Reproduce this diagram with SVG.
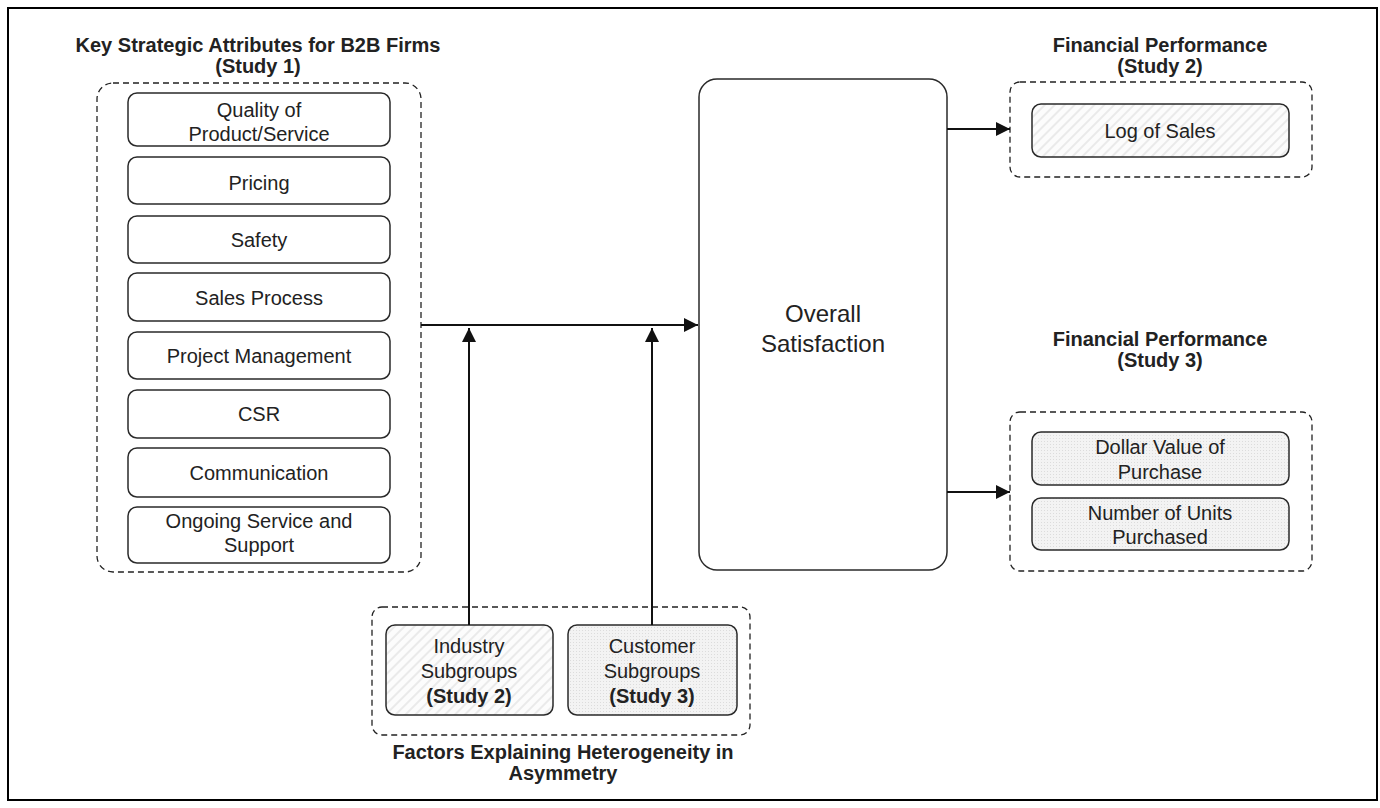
<svg xmlns="http://www.w3.org/2000/svg" width="1380" height="808" viewBox="0 0 1380 808">
<style>
.frame{fill:#fff;stroke:#000;stroke-width:2}
.grp{fill:none;stroke:#222;stroke-width:1.3;stroke-dasharray:6,4}
.box{fill:#fff;stroke:#2a2a2a;stroke-width:1.5}
.hatch{fill:url(#hatch);stroke:#2a2a2a;stroke-width:1.5}
.dots{fill:url(#dots);stroke:#2a2a2a;stroke-width:1.5}
.t{font-family:"Liberation Sans",Arial,sans-serif;font-size:20px;fill:#222;text-anchor:middle}
.b{font-weight:bold}
.h{font-family:"Liberation Sans",Arial,sans-serif;font-size:20px;font-weight:bold;fill:#222;text-anchor:middle}
.big{font-family:"Liberation Sans",Arial,sans-serif;font-size:24px;fill:#222;text-anchor:middle}
.c{fill:none;stroke:#111;stroke-width:2}
</style>
<defs>
<pattern id="hatch" width="7" height="7" patternUnits="userSpaceOnUse" patternTransform="rotate(45)">
<rect width="7" height="7" fill="#fcfcfc"/>
<rect width="2" height="7" fill="#eaeaea"/>
</pattern>
<pattern id="dots" width="3" height="3" patternUnits="userSpaceOnUse">
<rect width="3" height="3" fill="#f3f3f3"/>
<rect width="1" height="1" fill="#dcdcdc"/>
</pattern>
<marker id="arr" viewBox="0 0 10 10" refX="10" refY="5" markerWidth="14" markerHeight="14" markerUnits="userSpaceOnUse" orient="auto">
<path d="M0,0 L10,5 L0,10 Z" fill="#111"/>
</marker>
</defs>
<rect class="frame" x="8" y="8" width="1369" height="792"/>

<g id="attributes">
<text class="h" x="258" y="52">Key Strategic Attributes for B2B Firms</text>
<text class="h" x="258" y="73">(Study 1)</text>
<rect class="grp" x="97" y="83" width="324" height="489" rx="16"/>
<g id="n-quality"><rect class="box" x="128" y="93" width="262" height="53" rx="9"/><text class="t" x="259" y="117">Quality of</text><text class="t" x="259" y="141">Product/Service</text></g>
<g id="n-pricing"><rect class="box" x="128" y="157" width="262" height="47" rx="9"/><text class="t" x="259" y="190">Pricing</text></g>
<g id="n-safety"><rect class="box" x="128" y="216" width="262" height="47" rx="9"/><text class="t" x="259" y="247">Safety</text></g>
<g id="n-sales"><rect class="box" x="128" y="273" width="262" height="48" rx="9"/><text class="t" x="259" y="305">Sales Process</text></g>
<g id="n-pm"><rect class="box" x="128" y="332" width="262" height="47" rx="9"/><text class="t" x="259" y="363">Project Management</text></g>
<g id="n-csr"><rect class="box" x="128" y="390" width="262" height="48" rx="9"/><text class="t" x="259" y="421">CSR</text></g>
<g id="n-comm"><rect class="box" x="128" y="448" width="262" height="49" rx="9"/><text class="t" x="259" y="480">Communication</text></g>
<g id="n-ongoing"><rect class="box" x="128" y="507" width="262" height="56" rx="9"/><text class="t" x="259" y="528">Ongoing Service and</text><text class="t" x="259" y="552">Support</text></g>
</g>

<g id="overall">
<rect class="box" x="699" y="79" width="248" height="491" rx="18"/>
<text class="big" x="823" y="322">Overall</text>
<text class="big" x="823" y="352">Satisfaction</text>
</g>

<g id="fin2">
<text class="h" x="1160" y="52">Financial Performance</text>
<text class="h" x="1160" y="73">(Study 2)</text>
<rect class="grp" x="1010" y="82" width="302" height="95" rx="10"/>
<g id="n-logsales"><rect class="hatch" x="1032" y="104" width="257" height="53" rx="9"/><text class="t" x="1160" y="138">Log of Sales</text></g>
</g>

<g id="fin3">
<text class="h" x="1160" y="346">Financial Performance</text>
<text class="h" x="1160" y="367">(Study 3)</text>
<rect class="grp" x="1010" y="412" width="302" height="159" rx="10"/>
<g id="n-dollar"><rect class="dots" x="1032" y="432" width="257" height="53" rx="9"/><text class="t" x="1160" y="454">Dollar Value of</text><text class="t" x="1160" y="479">Purchase</text></g>
<g id="n-units"><rect class="dots" x="1032" y="498" width="257" height="52" rx="9"/><text class="t" x="1160" y="520">Number of Units</text><text class="t" x="1160" y="544">Purchased</text></g>
</g>

<g id="factors">
<rect class="grp" x="372" y="607" width="378" height="128" rx="10"/>
<g id="n-industry"><rect class="hatch" x="386" y="625" width="167" height="90" rx="9"/><text class="t" x="469" y="653">Industry</text><text class="t" x="469" y="678">Subgroups</text><text class="t b" x="469" y="703">(Study 2)</text></g>
<g id="n-customer"><rect class="dots" x="568" y="625" width="169" height="90" rx="9"/><text class="t" x="652" y="653">Customer</text><text class="t" x="652" y="678">Subgroups</text><text class="t b" x="652" y="703">(Study 3)</text></g>
<text class="h" x="563" y="759">Factors Explaining Heterogeneity in</text>
<text class="h" x="563" y="780">Asymmetry</text>
</g>

<g id="connectors">
<line class="c" x1="421" y1="325" x2="698" y2="325" marker-end="url(#arr)"/>
<line class="c" x1="469" y1="625" x2="469" y2="328" marker-end="url(#arr)"/>
<line class="c" x1="652" y1="625" x2="652" y2="328" marker-end="url(#arr)"/>
<line class="c" x1="947" y1="129" x2="1010" y2="129" marker-end="url(#arr)"/>
<line class="c" x1="947" y1="492" x2="1010" y2="492" marker-end="url(#arr)"/>
</g>
</svg>
